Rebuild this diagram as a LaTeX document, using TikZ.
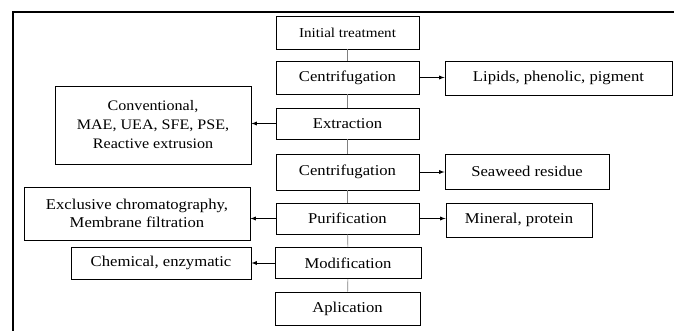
\documentclass[tikz,border=0pt]{standalone}
\usepackage{fontspec}
\setmainfont[FakeStretch=1.11]{Liberation Serif}
\usetikzlibrary{arrows,shapes}

\begin{document}
\begin{tikzpicture}
            [x=1pt,y=-1pt,>=latex,line width=0.9pt,
             box/.style={rectangle,draw,inner sep=0pt,align=center,font=\fontsize{15}{18}\selectfont},
             link/.style={draw=gray,line width=0.6pt}]

            \useasboundingbox (0,0) rectangle (674,331);
            \draw[line width=1.3pt] (13,331) -- (13,12) -- (674,12);

            % main chain
            \node (init) [box,minimum width=143,minimum height=33,font=\fontsize{13.6}{16}\selectfont] at (347.5,32.5) {Initial treatment};
            \node (cen1) [box,minimum width=143,minimum height=33] at (347.5,77.5) {Centrifugation};
            \node (ext) [box,minimum width=143,minimum height=31] at (347.5,123.5) {Extraction};
            \node (cen2) [box,minimum width=143,minimum height=36] at (347.5,172) {Centrifugation};
            \node (pur) [box,minimum width=143,minimum height=31] at (347.5,218.5) {Purification};
            \node (mod) [box,minimum width=146,minimum height=31] at (348,263) {Modification};
            \node (apl) [box,minimum width=145,minimum height=33] at (347.5,308.5) {Aplication};

            % products
            \node (lip) [box,minimum width=227,minimum height=34] at (558.5,78) {Lipids, phenolic, pigment};
            \node (sea) [box,minimum width=164,minimum height=35] at (527,171.5) {Seaweed residue};
            \node (mine) [box,minimum width=146,minimum height=34] at (519,220) {Mineral, protein};

            % methods
            \node (conv) [box,minimum width=196,minimum height=78,font=\fontsize{14.5}{19}\selectfont] at (153,125) {Conventional,\\MAE, UEA, SFE, PSE,\\Reactive extrusion};
            \node (excl) [box,minimum width=226,minimum height=53] at (137,213.5) {Exclusive chromatography,\\Membrane filtration};
            \node (chem) [box,minimum width=180,minimum height=32] at (161,263) {Chemical, enzymatic};

            \path[link] (init) edge (cen1);
            \path[link] (cen1) edge (ext);
            \path[link] (ext) edge (cen2);
            \path[link] (cen2) edge (pur);
            \path[link] (pur) edge (mod);
            \path[link] (mod) edge (apl);

            \draw[->] (cen1.east) -- (cen1.east -| lip.west);
            \draw[->] (cen2.east) -- (cen2.east -| sea.west);
            \draw[->] (pur.east) -- (pur.east -| mine.west);
            \draw[->] (ext.west) -- (ext.west -| conv.east);
            \draw[->] (pur.west) -- (pur.west -| excl.east);
            \draw[->] (mod.west) -- (mod.west -| chem.east);
        \end{tikzpicture}
\end{document}
